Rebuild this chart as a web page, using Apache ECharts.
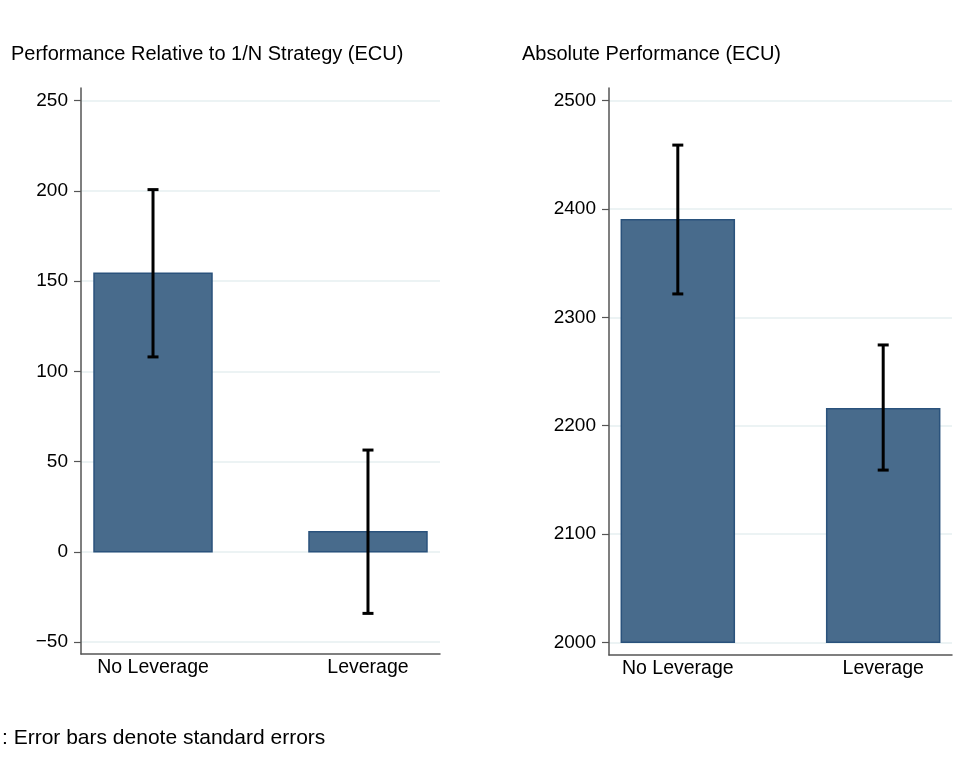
<!DOCTYPE html>
<html>
<head>
<meta charset="utf-8">
<script src="https://cdn.jsdelivr.net/npm/echarts@6/dist/echarts.min.js"></script>
<style>
html,body{margin:0;padding:0;background:#fff;}
#chart{width:975px;height:770px;}
</style>
</head>
<body>
<div id="chart"></div>
<script>
// ---- data ----
var categories = ['No Leverage', 'Leverage'];
var relMean = [154.3, 11.1];
var relLower = [108.0, -34.1];
var relUpper = [200.7, 56.4];
var relBase = 0;
var absMean = [2390.0, 2215.7];
var absLower = [2321.6, 2159.0];
var absUpper = [2459.0, 2274.5];
var absBase = 2000;
var relTicks = [-50, 0, 50, 100, 150, 200, 250];
var absTicks = [2000, 2100, 2200, 2300, 2400, 2500];
var titleLeft = 'Performance Relative to 1/N Strategy (ECU)';
var titleRight = 'Absolute Performance (ECU)';
var note = ': Error bars denote standard errors';

var FONT = '"Liberation Sans", Arial, sans-serif';
var BAR_FILL = '#486b8c';
var BAR_EDGE = '#2a527c';
var GRID_COLOR = '#e6eff1';
var AXIS_COLOR = '#555555';

function barData(vals, base) { return vals.map(function (v, i) { return [i, base, v]; }); }
function errData(lo, hi) { return lo.map(function (v, i) { return [i, v, hi[i]]; }); }

function makeBarRender(widthPx) {
  return function (params, api) {
    var x = api.value(0);
    var p0 = api.coord([x, api.value(1)]);
    var p1 = api.coord([x, api.value(2)]);
    var top = Math.min(p0[1], p1[1]);
    var h = Math.abs(p1[1] - p0[1]);
    return {
      type: 'rect',
      shape: { x: p0[0] - widthPx / 2, y: top, width: widthPx, height: h },
      style: { fill: BAR_FILL, stroke: BAR_EDGE, lineWidth: 1.5 }
    };
  };
}

function errorRender(params, api) {
  var x = api.value(0);
  var lo = api.coord([x, api.value(1)]);
  var hi = api.coord([x, api.value(2)]);
  var cap = 5.5;
  var style = { stroke: '#000', lineWidth: 3 };
  return {
    type: 'group',
    children: [
      { type: 'line', shape: { x1: lo[0], y1: lo[1], x2: hi[0], y2: hi[1] }, style: style },
      { type: 'line', shape: { x1: hi[0] - cap, y1: hi[1], x2: hi[0] + cap, y2: hi[1] }, style: style },
      { type: 'line', shape: { x1: lo[0] - cap, y1: lo[1], x2: lo[0] + cap, y2: lo[1] }, style: style }
    ]
  };
}

function xAxisDef(gridIndex) {
  return {
    type: 'value', gridIndex: gridIndex, min: -0.335, max: 1.335,
    axisLine: { show: true, onZero: false, lineStyle: { color: AXIS_COLOR, width: 1.5 } },
    axisTick: { show: false },
    splitLine: { show: false },
    axisLabel: {
      customValues: [0, 1], margin: 4, color: '#000', fontSize: 19.5, fontFamily: FONT,
      formatter: function (v) { return categories[Math.round(v)]; }
    }
  };
}
function yAxisDef(gridIndex, min, max, ticks) {
  return {
    type: 'value', gridIndex: gridIndex, min: min, max: max,
    axisLine: { show: true, onZero: false, lineStyle: { color: AXIS_COLOR, width: 1.5 } },
    axisTick: { show: true, customValues: ticks, length: 7, lineStyle: { color: AXIS_COLOR, width: 1.2 } },
    splitLine: { show: true, lineStyle: { color: GRID_COLOR, width: 1.5 } },
    axisLabel: {
      customValues: ticks, margin: 13, color: '#000', fontSize: 19, fontFamily: FONT,
      formatter: function (v) { return v < 0 ? '\u2212' + Math.abs(v) : String(v); }
    }
  };
}

var titleStyle = { fontSize: 20, fontWeight: 'normal', color: '#000', fontFamily: FONT };
var noteStyle = { fontSize: 21, fontWeight: 'normal', color: '#000', fontFamily: FONT };
var chart = echarts.init(document.getElementById('chart'), null, { renderer: 'canvas' });
chart.setOption({
  animation: false,
  backgroundColor: '#ffffff',
  title: [
    { text: titleLeft, left: 11, top: 44, padding: 0, textStyle: titleStyle },
    { text: titleRight, left: 522, top: 44, padding: 0, textStyle: titleStyle },
    { text: note, left: 2, top: 728, padding: 0, textStyle: noteStyle }
  ],
  grid: [
    { left: 81, right: 535, top: 88, bottom: 116 },
    { left: 609, right: 23, top: 88, bottom: 115 }
  ],
  xAxis: [xAxisDef(0), xAxisDef(1)],
  yAxis: [
    yAxisDef(0, -56.6, 257, relTicks),
    yAxisDef(1, 1988.3, 2511.7, absTicks)
  ],
  series: [
    { type: 'custom', xAxisIndex: 0, yAxisIndex: 0, renderItem: makeBarRender(118), data: barData(relMean, relBase), z: 3 },
    { type: 'custom', xAxisIndex: 0, yAxisIndex: 0, renderItem: errorRender, data: errData(relLower, relUpper), z: 5 },
    { type: 'custom', xAxisIndex: 1, yAxisIndex: 1, renderItem: makeBarRender(113), data: barData(absMean, absBase), z: 3 },
    { type: 'custom', xAxisIndex: 1, yAxisIndex: 1, renderItem: errorRender, data: errData(absLower, absUpper), z: 5 }
  ]
});
</script>
</body>
</html>
